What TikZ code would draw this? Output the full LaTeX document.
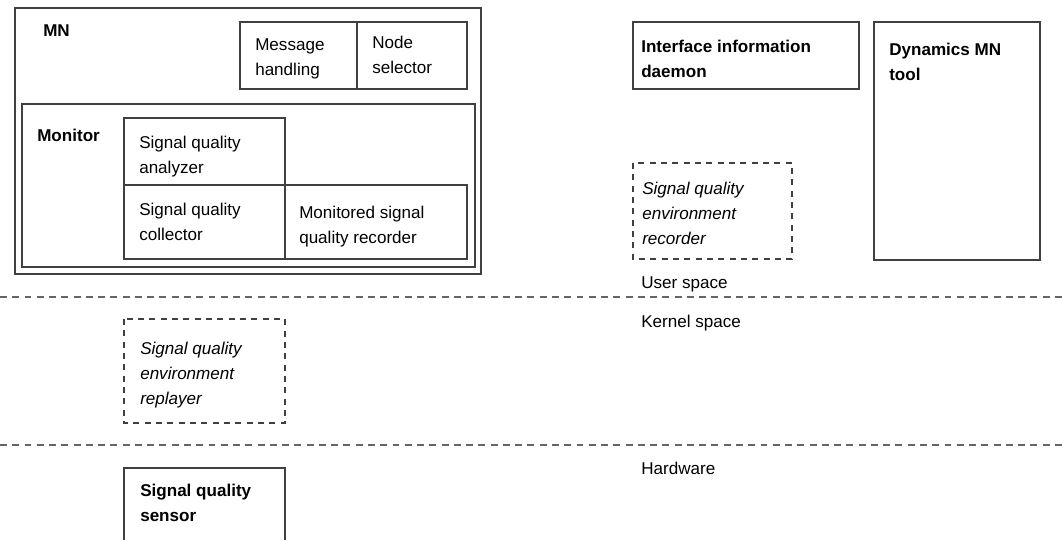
\documentclass[tikz,border=0pt]{standalone}
\usepackage{fontspec}
\setmainfont{Liberation Sans}
\usetikzlibrary{positioning}

\tikzset{
  box/.style={draw=black!75, line width=0.8pt},
  dashbox/.style={box, dash pattern=on 4.5pt off 4pt},
  layersep/.style={draw=black!60, line width=0.8pt, dash pattern=on 5.2pt off 4pt},
  txt/.style={anchor=base west, align=left, inner sep=0pt, font=\fontsize{12.8}{18.75}\selectfont},
  btxt/.style={txt, font=\fontsize{12.8}{18.75}\selectfont\bfseries},
  itxt/.style={txt, font=\fontsize{12.8}{18.75}\selectfont\itshape}
}

\begin{document}
\begin{tikzpicture}[x=0.75pt, y=-0.75pt]
  \useasboundingbox (0,0) rectangle (1062,540);

  % MN (top left)
  \draw[box] (15,8) rectangle (481,274);
  \node[btxt] (mn) at (43,36) {MN};
  \draw[box] (240,22) rectangle (467,89);
  \draw[box] (357,22) -- (357,89);
  \node[txt] (msg) at (255,75) {Message\\handling};
  \node[txt] (sel) at (372,73) {Node\\selector};

  % Monitor
  \draw[box] (22,104) rectangle (475,267);
  \node[btxt] (mon) at (37,141) {Monitor};
  \draw[box] (124,118) rectangle (285,185);
  \draw[box] (124,185) rectangle (285,259);
  \draw[box] (285,185) rectangle (467,259);
  \node[txt] (ana) at (139,173) {Signal quality\\analyzer};
  \node[txt] (col) at (139,240) {Signal quality\\collector};
  \node[txt] (rec) at (299,243) {Monitored signal\\quality recorder};

  % User space (right)
  \draw[box] (633,22) rectangle (859,89);
  \node[btxt] (iid) at (641,77) {Interface information\\daemon};
  \draw[box] (874,22) rectangle (1040,260);
  \node[btxt] (dyn) at (889,80) {Dynamics MN\\tool};
  \draw[dashbox] (633,163) rectangle (792,259);
  \node[itxt] (envrec) at (642,244) {Signal quality\\environment\\recorder};

  % Layers
  \node[txt] (user) at (641,288) {User space};
  \draw[layersep] (0,297) -- (1062,297);
  \node[txt] (kern) at (641,327) {Kernel space};
  \draw[dashbox] (124,319) rectangle (285,423);
  \node[itxt] (envrep) at (140,404) {Signal quality\\environment\\replayer};
  \draw[layersep] (0,445) -- (1062,445);
  \node[txt] (hw) at (641,474) {Hardware};

  % Sensor (cut at the bottom)
  \draw[box] (124,540) |- (285,468) -- (285,540);
  \node[btxt] (sens) at (140,521) {Signal quality\\sensor};
\end{tikzpicture}
\end{document}
